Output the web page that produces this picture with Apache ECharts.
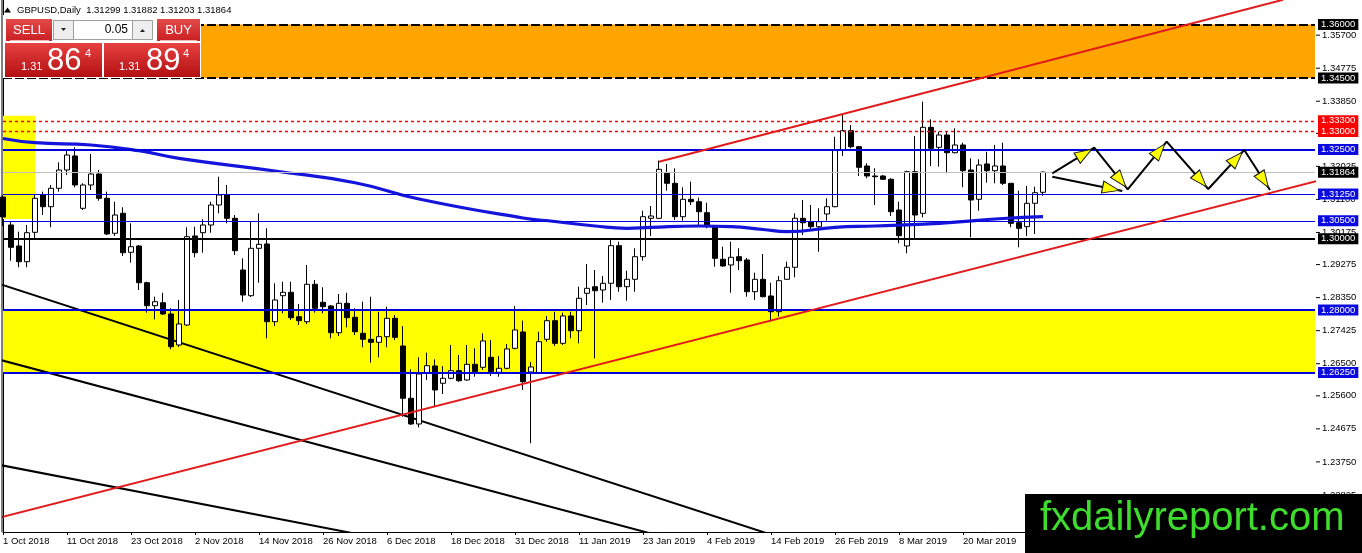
<!DOCTYPE html>
<html><head><meta charset="utf-8">
<script src="https://cdn.jsdelivr.net/npm/echarts@6/dist/echarts.min.js"></script>
<style>html,body{margin:0;padding:0;background:#fff;}#c{width:1362px;height:553px;}</style>
</head><body><div id="c"></div>
<script>
// ---------- DATA ----------
const monthDays = [
  ['Oct 2018',[1,2,3,4,5,8,9,10,11,12,15,16,17,18,19,22,23,24,25,26,29,30,31]],
  ['Nov 2018',[1,2,5,6,7,8,9,12,13,14,15,16,19,20,21,22,23,26,27,28,29,30]],
  ['Dec 2018',[3,4,5,6,7,10,11,12,13,14,17,18,19,20,21,24,26,27,28,31]],
  ['Jan 2019',[2,3,4,7,8,9,10,11,14,15,16,17,18,21,22,23,24,25,28,29,30,31]],
  ['Feb 2019',[1,4,5,6,7,8,11,12,13,14,15,18,19,20,21,22,25,26,27,28]],
  ['Mar 2019',[1,4,5,6,7,8,11,12,13,14,15,18,19,20,21,22,25,26,27,28,29]],
  ['Apr 2019',[1,2,3,4,5,8,9,10,11,12,15,16,17,18,19,22,23,24,25,26,29,30]],
  ['May 2019',[1,2,3,6,7,8,9,10,13,14,15,16,17,20,21]]
];
const tradingDays = [];
monthDays.forEach(([m, days]) => days.forEach(d => tradingDays.push(d + ' ' + m)));

// daily candles: [open, close, low, high]
const candles = [
[1.31168,1.30608,1.30356,1.31224],[1.30384,1.29759,1.29384,1.30476],[1.29796,1.29356,1.29199,1.30196],
[1.29356,1.30168,1.29199,1.30384],[1.30179,1.31131,1.30011,1.31224],[1.31224,1.30896,1.30664,1.31316],
[1.30896,1.31411,1.30319,1.31504],[1.31411,1.31924,1.31316,1.32139],[1.31924,1.32344,1.31784,1.32464],
[1.32316,1.31504,1.31439,1.32559],[1.30851,1.31504,1.30804,1.31551],[1.31504,1.31812,1.31364,1.32372],
[1.31812,1.31131,1.31064,1.31924],[1.31131,1.30132,1.30104,1.31316],[1.30151,1.30664,1.30076,1.31036],
[1.30711,1.29608,1.29516,1.30879],[1.29619,1.29776,1.29328,1.30431],[1.29796,1.28768,1.28564,1.29824],
[1.28768,1.28124,1.27928,1.28796],[1.28124,1.28236,1.27743,1.28376],[1.28208,1.27892,1.27864,1.28488],
[1.27892,1.26976,1.26903,1.28051],[1.27024,1.27612,1.26968,1.28284],[1.27584,1.30056,1.27556,1.30319],
[1.30076,1.29608,1.29479,1.30336],[1.30168,1.30384,1.29608,1.30543],[1.30384,1.30944,1.30168,1.31036],
[1.30944,1.31224,1.30711,1.31736],[1.31224,1.30571,1.30431,1.31504],[1.30571,1.29664,1.29544,1.30664],
[1.29124,1.28424,1.28236,1.29451],[1.28404,1.29731,1.28368,1.30476],[1.29731,1.29843,1.28768,1.30711],
[1.29852,1.27676,1.27211,1.30291],[1.27676,1.28284,1.27556,1.28751],[1.28404,1.28499,1.27911,1.28796],
[1.28499,1.27788,1.27724,1.28796],[1.27816,1.27704,1.27584,1.28172],[1.27676,1.28723,1.27612,1.29264],
[1.28723,1.28051,1.27928,1.28844],[1.28219,1.28096,1.27911,1.28639],[1.28116,1.27368,1.27211,1.28144],
[1.27368,1.28191,1.27276,1.28452],[1.28191,1.27788,1.27519,1.28488],[1.27799,1.27396,1.27304,1.28051],
[1.27351,1.27183,1.26959,1.28236],[1.27183,1.27099,1.26528,1.28376],[1.27099,1.27256,1.26679,1.27956],
[1.27256,1.27771,1.26959,1.28096],[1.27771,1.27239,1.27164,1.27864],[1.26996,1.25531,1.25016,1.27556],
[1.25531,1.24812,1.24784,1.26343],[1.24812,1.26212,1.24719,1.26679],[1.26231,1.26444,1.26044,1.26808],
[1.26436,1.25764,1.25296,1.26623],[1.25951,1.26091,1.25652,1.26436],[1.26091,1.26304,1.26063,1.27024],
[1.26304,1.26024,1.25996,1.26744],[1.26044,1.26483,1.26024,1.27024],[1.26483,1.26276,1.26136,1.26931],
[1.26399,1.27136,1.26324,1.27351],[1.26679,1.26276,1.26156,1.27164],[1.26259,1.26371,1.26136,1.26716],
[1.26371,1.26912,1.26343,1.27052],[1.26931,1.27444,1.26903,1.28116],[1.27388,1.25996,1.25764,1.27704],
[1.26268,1.26408,1.24271,1.26548],[1.26248,1.27116,1.26212,1.27396],[1.27183,1.27704,1.27116,1.27836],
[1.27704,1.27071,1.26996,1.27956],[1.27071,1.27836,1.27024,1.27928],[1.27836,1.27424,1.27211,1.27956],
[1.27424,1.28331,1.27071,1.28656],[1.28471,1.28611,1.28144,1.29292],[1.28656,1.28544,1.26651,1.29124],
[1.28564,1.28751,1.28208,1.28956],[1.28751,1.29804,1.28284,1.29964],[1.29804,1.28656,1.28516,1.29916],
[1.28656,1.28863,1.28264,1.29104],[1.28863,1.29496,1.28516,1.29731],[1.29496,1.30616,1.29384,1.30784],
[1.30571,1.30636,1.30076,1.30916],[1.30571,1.31943,1.30550,1.32184],[1.31831,1.31551,1.31344,1.32092],
[1.31551,1.30616,1.30524,1.31971],[1.30616,1.31103,1.30504,1.31439],[1.31103,1.31036,1.30944,1.31596],
[1.31036,1.30756,1.30384,1.31148],[1.30728,1.30384,1.30291,1.31008],[1.30336,1.29451,1.29216,1.30384],
[1.29423,1.29236,1.29216,1.29776],[1.29264,1.29479,1.28488,1.29916],[1.29496,1.29384,1.29124,1.29731],
[1.29404,1.28516,1.28376,1.29460],[1.28516,1.28863,1.28284,1.29048],[1.28863,1.28376,1.28359,1.29572],
[1.28396,1.27956,1.27676,1.28768],[1.27956,1.28824,1.27816,1.28956],[1.28863,1.29199,1.28844,1.29356],
[1.29199,1.30571,1.28919,1.30711],[1.30571,1.30448,1.30104,1.31084],[1.30476,1.30336,1.30263,1.30944],
[1.30336,1.30476,1.29636,1.30851],[1.30692,1.30896,1.30504,1.31131],[1.30896,1.32484,1.30880,1.32856],
[1.32484,1.33024,1.32316,1.33464],[1.33024,1.32576,1.32531,1.33184],[1.32576,1.31999,1.31756,1.32600],
[1.32036,1.31756,1.31691,1.32111],[1.31756,1.31736,1.30944,1.31971],[1.31756,1.31663,1.31644,1.31784],
[1.31663,1.30756,1.30636,1.31691],[1.30804,1.30084,1.29871,1.31036],[1.29796,1.31876,1.29591,1.31904],
[1.31876,1.30664,1.30011,1.32876],[1.30711,1.33119,1.30599,1.33836],[1.33119,1.32531,1.32036,1.33343],
[1.32559,1.32904,1.32016,1.32996],[1.32904,1.32408,1.31831,1.32996],[1.32408,1.32624,1.32391,1.33091],
[1.32624,1.31904,1.31439,1.32688],[1.31924,1.31084,1.30039,1.32251],[1.31103,1.32064,1.30784,1.32223],
[1.32092,1.31904,1.31568,1.32436],[1.31904,1.32036,1.31551,1.32624],[1.32036,1.31551,1.31504,1.32688],
[1.31551,1.30431,1.30319,1.31560],[1.30448,1.30291,1.29759,1.31344],[1.30336,1.30991,1.30076,1.31476],
[1.30991,1.31288,1.30132,1.31456],[1.31299,1.31864,1.31203,1.31882]
];

// moving average read at sample bars: [barIndex, price]
const maPoints = [
[0,1.32806],[4,1.32688],[11,1.32624],[17,1.32464],[22,1.32251],[34,1.31896],[44,1.31568],
[52,1.31112],[65,1.30580],[69,1.30482],[74,1.30356],[78,1.30291],[81,1.30319],[87,1.30356],
[91,1.30336],[95,1.30258],[98,1.30196],[104,1.30319],[109,1.30356],[117,1.30431],[125,1.30566],[130,1.30616]
];

// price-axis tick labels
const yTickValues = [1.35700,1.34775,1.33850,1.32950,1.32025,1.31100,1.30175,1.29275,1.28350,1.27425,1.26500,1.25600,1.24675,1.23750,1.22825];

// horizontal levels
const levelPrices = [1.36000,1.34500,1.33300,1.33000,1.32500,1.31864,1.31250,1.30500,1.30000,1.28000,1.26250];
const levelKinds  = ['dashBlack','dashBlack','dashRed','dashRed','blueThick','bid','blueThin','blueThin','blackThick','blueThick','blueThick'];

// zones
const orangeZone = [1.34500, 1.36000];
const yellowZone = [1.26250, 1.28000];
const leftBoxBars = [0, 4];
const leftBoxPrices = [1.30550, 1.33440];

// trend lines: [barIndex, price]
const redUpper = [[82,1.32156],[160,1.36690]];
const redLower = [[-1,1.22156],[165,1.31658]];
const blackA = [[-1,1.28776],[100,1.21423]];
const blackB = [[-1,1.26645],[100,1.20608]];
const blackC = [[-1,1.23691],[50,1.21481]];

// projected path arrows
const arrowPath = [[131.16,1.31831],[136.41,1.32548],[140.59,1.31383],[145.46,1.32716],[150.66,1.31392],[155.16,1.32484],[158.375,1.31364]];
const arrowSingle = [[131.16,1.31736],[139.91,1.31336]];

const headerText = 'GBPUSD,Daily  1.31299 1.31882 1.31203 1.31864';

// ---------- CHART ----------
const FONT = '"Liberation Sans", Arial, sans-serif';
const BLUE = '#0000dd', BLUEBOX = '#0a0ae0', RED = '#ff0000', TRED = '#e31a1c';
const kindStyle = {
  dashBlack: {line:{color:'#000',width:2,type:[9,3]}, box:'#000'},
  dashRed:   {line:{color:RED,width:1.4,type:[3,3]}, box:RED},
  blueThick: {line:{color:BLUE,width:2,type:'solid'}, box:BLUEBOX},
  blueThin:  {line:{color:BLUE,width:1.2,type:'solid'}, box:BLUEBOX},
  bid:       {line:{color:'#c0c0c0',width:1,type:'solid'}, box:'#000'},
  blackThick:{line:{color:'#000',width:2,type:'solid'}, box:'#000'}
};
const yMax = 1.36684, yMin = 1.21787;
const nCat = 165;

const chart = echarts.init(document.getElementById('c'), null, {renderer:'canvas'});

function lineSeries(id, pts, color, width, z) {
  return {id, type:'line', xAxisIndex:1, yAxisIndex:0, data:pts, symbol:'none', silent:true,
    lineStyle:{color, width}, z, animation:false, clip:true};
}

const levelData = levelPrices.map((p, i) => {
  const st = kindStyle[levelKinds[i]];
  return {yAxis:p, lineStyle:st.line,
    label:{show:true, position:'end', distance:3, formatter:p.toFixed(5), color:'#fff',
      backgroundColor:st.box, padding:[1,3,0,3], fontSize:9.5, lineHeight:10, fontFamily:FONT}};
});

const redGrad = () => new echarts.graphic.LinearGradient(0,0,0,1,[{offset:0,color:'#e84141'},{offset:1,color:'#b30f12'}]);
const hdrGrad = () => new echarts.graphic.LinearGradient(0,0,0,1,[{offset:0,color:'#e44a4a'},{offset:1,color:'#c91f22'}]);
const txt = (text, x, y, font, fill, align, z) => ({type:'text', z: z||101, silent:true,
  style:{text, x, y, font, fill, align:align||'left', textAlign:align||'left', verticalAlign:'middle', textVerticalAlign:'middle'}});

const graphics = [
  {type:'line', z:100, silent:true, shape:{x1:2,y1:0,x2:2,y2:532}, style:{stroke:'#000',lineWidth:1}},
  {type:'polygon', z:101, silent:true, shape:{points:[[4,12.5],[7.5,7.5],[11,12.5]]}, style:{fill:'#000'}},
  txt(headerText, 17, 10, '9.5px ' + FONT, '#000'),
  {type:'rect', z:100, silent:true, shape:{x:3,y:15,width:198,height:63}, style:{fill:'#fff'}},
  {type:'rect', z:101, silent:true, shape:{x:6,y:19,width:46,height:22}, style:{fill:hdrGrad()}},
  {type:'line', z:102, silent:true, shape:{x1:10,y1:40.5,x2:49,y2:40.5}, style:{stroke:'#f3b0b0',lineWidth:1}},
  txt('SELL', 29, 30.5, '13px ' + FONT, '#fff', 'center'),
  {type:'rect', z:101, silent:true, shape:{x:53.5,y:20.5,width:99,height:19}, style:{fill:'#fff',stroke:'#a0a0a0',lineWidth:1}},
  {type:'rect', z:102, silent:true, shape:{x:53.5,y:20.5,width:20,height:19}, style:{fill:'#eeeeee',stroke:'#a0a0a0',lineWidth:1}},
  {type:'rect', z:102, silent:true, shape:{x:132.5,y:20.5,width:20,height:19}, style:{fill:'#eeeeee',stroke:'#a0a0a0',lineWidth:1}},
  {type:'polygon', z:103, silent:true, shape:{points:[[61,28],[66,28],[63.5,31]]}, style:{fill:'#222'}},
  {type:'polygon', z:103, silent:true, shape:{points:[[140,32],[145,32],[142.5,29]]}, style:{fill:'#222'}},
  txt('0.05', 128, 30, '12px ' + FONT, '#000', 'right', 103),
  {type:'rect', z:101, silent:true, shape:{x:157,y:19,width:43,height:22}, style:{fill:hdrGrad()}},
  {type:'line', z:102, silent:true, shape:{x1:160,y1:40.5,x2:197,y2:40.5}, style:{stroke:'#f3b0b0',lineWidth:1}},
  txt('BUY', 178.5, 30.5, '13px ' + FONT, '#fff', 'center'),
  {type:'rect', z:101, silent:true, shape:{x:5,y:43,width:97,height:34}, style:{fill:redGrad()}},
  {type:'rect', z:101, silent:true, shape:{x:104,y:43,width:96,height:34}, style:{fill:redGrad()}},
  txt('1.31', 21, 66.5, '11px ' + FONT, '#fff', 'left', 102),
  txt('86', 47, 61, '31px ' + FONT, '#fff', 'left', 102),
  txt('4', 85, 53.5, '11px ' + FONT, '#fff', 'left', 102),
  txt('1.31', 119, 66.5, '11px ' + FONT, '#fff', 'left', 102),
  txt('89', 146, 61, '31px ' + FONT, '#fff', 'left', 102),
  txt('4', 183, 53.5, '11px ' + FONT, '#fff', 'left', 102),
  {type:'rect', z:110, silent:true, shape:{x:1025,y:494,width:337,height:59}, style:{fill:'#000'}},
  txt('fxdailyreport.com', 1040, 519, '40px ' + FONT, '#3edc2d', 'left', 111)
];

const option = {
  animation:false,
  backgroundColor:'#ffffff',
  grid:{left:3, right:47, top:0, bottom:21, containLabel:false},
  xAxis:[
    {type:'category', data:tradingDays, boundaryGap:false,
     axisLine:{show:true, lineStyle:{color:'#000', width:1}},
     axisTick:{show:true, length:3, interval:(i)=> i % 8 === 0, lineStyle:{color:'#000'}},
     axisLabel:{show:true, interval:(i)=> i % 8 === 0 && i <= 128, align:'left', margin:4,
       fontSize:9.5, fontFamily:FONT, color:'#000'},
     splitLine:{show:false}},
    {type:'value', min:0, max:nCat-1, show:false, splitLine:{show:false}, axisTick:{show:false}, axisLabel:{show:false}, axisLine:{show:false}}
  ],
  yAxis:[{type:'value', position:'right', min:yMin, max:yMax, offset:1,
    axisLine:{show:true, lineStyle:{color:'#000', width:1}},
    axisTick:{show:false},
    minorTick:{show:false}, minorSplitLine:{show:false},
    axisLabel:{show:true, customValues:yTickValues, margin:0,
      formatter:(v)=>'{t|}{v|' + Number(v).toFixed(5) + '}',
      rich:{
        t:{width:4, height:1, backgroundColor:'#000', verticalAlign:'middle'},
        v:{fontSize:9.5, fontFamily:FONT, color:'#000', padding:[0,0,0,2], verticalAlign:'middle'}
      }},
    splitLine:{show:false}, splitArea:{show:false}}],
  graphic:{elements:graphics},
  series:[
    {id:'zones', type:'line', xAxisIndex:1, yAxisIndex:0, data:[], z:1, silent:true, symbol:'none',
     markArea:{silent:true, precision:6, data:[
       [{yAxis:orangeZone[0], itemStyle:{color:'#ffa500', opacity:1}}, {yAxis:orangeZone[1]}],
       [{yAxis:yellowZone[0], itemStyle:{color:'#ffff00', opacity:1}}, {yAxis:yellowZone[1]}],
       [{coord:[leftBoxBars[0], leftBoxPrices[0]], itemStyle:{color:'#ffff00', opacity:1}}, {coord:[leftBoxBars[1], leftBoxPrices[1]]}]
     ]}},
    {id:'levels', type:'line', xAxisIndex:1, yAxisIndex:0, data:[], z:2, silent:true, symbol:'none',
     markLine:{silent:true, precision:6, symbol:['none','none'], animation:false, data:levelData}},
    lineSeries('blackA', blackA, '#000', 2, 2),
    lineSeries('blackB', blackB, '#000', 2, 2),
    lineSeries('blackC', blackC, '#000', 2, 2),
    {id:'candles', type:'candlestick', xAxisIndex:0, yAxisIndex:0, data:candles, z:3, barWidth:5, silent:true,
     itemStyle:{color:'#ffffff', color0:'#000000', borderColor:'#000000', borderColor0:'#000000', borderWidth:1}},
    {id:'ma', type:'line', xAxisIndex:1, yAxisIndex:0, data:maPoints, smooth:true, symbol:'none', silent:true,
     lineStyle:{color:'#1414dc', width:3.2}, z:4},
    lineSeries('redUpper', redUpper, TRED, 2, 5),
    lineSeries('redLower', redLower, TRED, 2, 5),
    lineSeries('arrowPath', arrowPath, '#000', 2, 6),
    lineSeries('arrowSingle', arrowSingle, '#000', 2, 6)
  ]
};
chart.setOption(option);

// arrow heads placed at the end of each projected segment
const HEAD_LEN = 17, HEAD_BACK = 3;
const segs = [];
for (let i = 0; i < arrowPath.length - 1; i++) segs.push([arrowPath[i], arrowPath[i+1]]);
segs.push([arrowSingle[0], arrowSingle[1]]);
const heads = segs.map(([a, b]) => {
  const pa = chart.convertToPixel({seriesId:'arrowPath'}, a);
  const pb = chart.convertToPixel({seriesId:'arrowPath'}, b);
  const dx = pb[0]-pa[0], dy = pb[1]-pa[1], L = Math.hypot(dx, dy);
  const ux = dx/L, uy = dy/L;
  const c = [pb[0] - ux*(HEAD_BACK + HEAD_LEN/2), pb[1] - uy*(HEAD_BACK + HEAD_LEN/2)];
  return {value: chart.convertFromPixel({seriesId:'arrowPath'}, c), symbolRotate: Math.atan2(-ux, -uy)*180/Math.PI};
});
chart.setOption({series:[{id:'arrowHeads', type:'scatter', xAxisIndex:1, yAxisIndex:0, z:7, silent:true,
  symbol:'triangle', symbolSize:[12, HEAD_LEN], itemStyle:{color:'#ffff00', borderColor:'#1a1a1a', borderWidth:1, opacity:1},
  data:heads}]});
</script></body></html>
